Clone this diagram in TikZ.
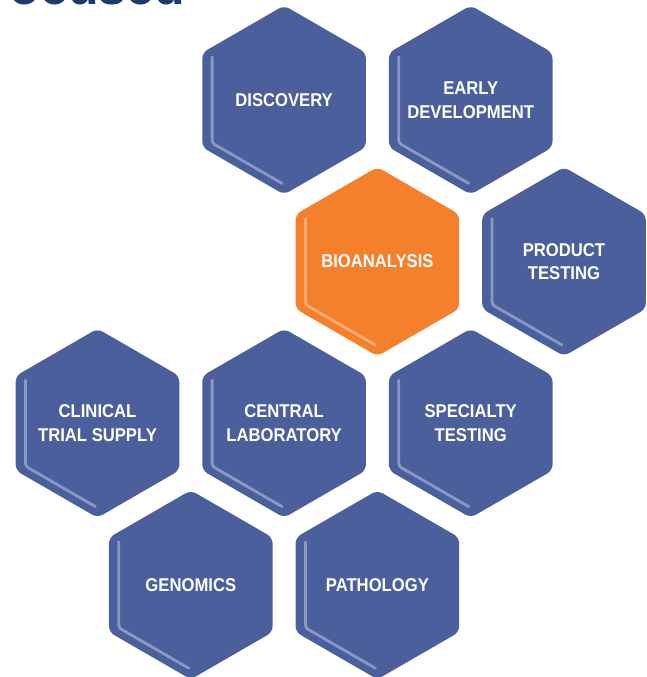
\documentclass[tikz,border=0pt]{standalone}
\usepackage{fontspec}
\newfontfamily\labelfont{Liberation Sans}[FakeStretch=0.9]
\newfontfamily\titlefont{Liberation Sans}
\definecolor{hexblue}{RGB}{75,95,157}
\definecolor{hexorange}{RGB}{244,128,44}
\definecolor{titlenavy}{RGB}{30,58,112}
\tikzset{
  hl/.style={draw=white, draw opacity=0.36, line width=2.8pt, line cap=round, rounded corners=3pt},
  lbl/.style={text=white, align=center, font=\labelfont\bfseries\fontsize{18.5}{23.5}\selectfont, inner sep=0pt},
  hexfill/.style={fill=#1, rounded corners=6pt}
}
\newcommand\hexcell[5]{%
  \path[hexfill=#3] (#1,#2) ++(0,-94.5) -- ++(81.84,47.25) -- ++(0,94.5) -- ++(-81.84,47.25) -- ++(-81.84,-47.25) -- ++(0,-94.5) -- cycle;
  \draw[hl] (#1-72,#2-43) -- (#1-72,#2+43) -- (#1-2,#2+83.4);
  \node[lbl] (#4) at (#1,#2) {#5};
}
\begin{document}
\begin{tikzpicture}[x=1pt,y=-1pt]
\path[use as bounding box] (0,0) rectangle (646,677);
\begin{scope}
  \clip (0,0) rectangle (646,677);
  \node[anchor=base east, inner sep=0pt, text=titlenavy, font=\titlefont\bfseries\fontsize{50}{50}\selectfont] (title) at (185,4.5) {Focused};
\end{scope}
\hexcell{284.1}{100}{hexblue}{discovery}{DISCOVERY}
\hexcell{470.7}{100}{hexblue}{earlydev}{EARLY\\DEVELOPMENT}
\hexcell{377.4}{261.6}{hexorange}{bioanalysis}{BIOANALYSIS}
\hexcell{564.0}{261.6}{hexblue}{product}{PRODUCT\\TESTING}
\hexcell{97.5}{423.2}{hexblue}{clinical}{CLINICAL\\TRIAL SUPPLY}
\hexcell{284.1}{423.2}{hexblue}{central}{CENTRAL\\LABORATORY}
\hexcell{470.7}{423.2}{hexblue}{specialty}{SPECIALTY\\TESTING}
\hexcell{190.8}{584.8}{hexblue}{genomics}{GENOMICS}
\hexcell{377.4}{584.8}{hexblue}{pathology}{PATHOLOGY}
\end{tikzpicture}
\end{document}
